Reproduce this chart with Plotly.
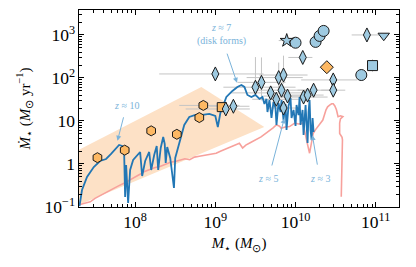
import plotly.graph_objects as go
import numpy as np

# ---------------- data (log10 units) ----------------
# simulated galaxy track (blue)
track_logm = [7.306, 7.3375, 7.40, 7.484, 7.5625, 7.6375, 7.70, 7.759, 7.80, 7.8375, 7.8625, 7.875, 7.8875,
              7.9125, 7.9375, 7.975, 8.025, 8.0625, 8.0875, 8.125, 8.175, 8.20, 8.2375, 8.269, 8.2875, 8.319,
              8.35, 8.369, 8.381, 8.40, 8.4375, 8.4625, 8.484, 8.50, 8.55, 8.6125, 8.675, 8.75, 8.8375, 8.925,
              9.00, 9.031, 9.0625, 9.1375, 9.2125, 9.275, 9.325, 9.3625, 9.40, 9.45, 9.50, 9.55, 9.5875, 9.6125,
              9.6375, 9.65, 9.675, 9.70, 9.725, 9.75, 9.7625, 9.7875, 9.8125, 9.825, 9.85, 9.875, 9.8875, 9.9125,
              9.9375, 9.95, 9.975, 10.00, 10.0125, 10.0375, 10.05, 10.0625, 10.0875, 10.10, 10.125, 10.1375,
              10.15, 10.1625, 10.175, 10.1875, 10.20, 10.2125, 10.225]
track_logsfr = [-0.977, -0.605, -0.302, -0.070, 0.070, 0.116, 0.233, 0.372, 0.442, 0.419, 0.302, -0.767, -0.023,
                -0.907, -0.140, 0.093, 0.209, 0.279, -0.279, 0.070, 0.279, -0.140, 0.209, 0.419, -0.140, 0.372,
                0.628, 0.465, 0.023, 0.395, 0.140, -0.186, -0.558, 0.140, 0.488, 0.907, 1.093, 1.140, 1.140, 1.163,
                1.116, 0.860, 1.186, 1.558, 1.698, 1.791, 1.837, 1.791, 1.605, 1.558, 1.605, 1.512, 1.558, 1.395,
                1.512, 1.209, 1.488, 1.070, 1.442, 1.302, 0.907, 1.419, 1.209, 1.488, 1.023, 1.395, 0.791, 1.349,
                1.535, 1.070, 1.256, 0.884, 1.372, 1.140, 1.558, 0.907, 1.256, 0.674, 1.372, 0.837, 0.488, 1.209,
                1.488, 0.791, 0.558, 1.070, 0.744]

# second track (salmon)
track2_logm = [7.30, 7.37, 7.44, 7.50, 7.56, 7.65, 7.72, 7.78, 7.86, 7.93, 8.00, 8.06, 8.11, 8.18, 8.25, 8.31,
               8.37, 8.44, 8.50, 8.56, 8.62, 8.68, 8.74, 8.80, 8.86, 8.92, 9.01, 9.07, 9.13, 9.20, 9.26, 9.30,
               9.34, 9.38, 9.44, 9.51, 9.57, 9.62, 9.68, 9.72, 9.76, 9.80, 9.82, 9.87, 9.925, 9.96, 9.99, 10.04,
               10.09, 10.11, 10.13, 10.15, 10.175, 10.20, 10.22, 10.25, 10.275, 10.31, 10.34, 10.38, 10.40,
               10.425, 10.45, 10.47, 10.49, 10.51, 10.53, 10.56, 10.59, 10.56, 10.55, 10.55, 10.58, 10.585,
               10.58, 10.57]
track2_logsfr = [-0.95, -0.92, -0.88, -0.80, -0.74, -0.64, -0.58, -0.52, -0.45, -0.38, -0.30, -0.24, -0.18,
                 -0.13, -0.08, -0.06, -0.02, 0.04, 0.06, 0.09, 0.12, 0.10, 0.16, 0.18, 0.20, 0.22, 0.25, 0.30,
                 0.35, 0.40, 0.44, 0.48, 0.37, 0.44, 0.50, 0.56, 0.63, 0.70, 0.78, 0.84, 0.91, 0.88, 0.83, 0.86,
                 0.87, 0.92, 0.95, 0.93, 0.95, 0.80, 0.60, 0.45, 0.25, 0.50, 0.71, 0.80, 0.87, 0.95, 1.02, 1.26,
                 1.33, 1.37, 1.40, 1.40, 1.35, 1.26, 1.10, 1.12, 1.10, 1.05, 0.95, 0.71, 0.62, 0.56, 0.20, -0.76]

# shaded band (log M, log SFR)
band_logm = [7.30, 8.825, 9.61, 7.30]
band_logsfr = [0.33, 1.79, 0.86, -0.95]

# light blue observations
diam_logm = [9.00, 9.13, 9.225, 9.50, 9.575, 9.69, 9.76, 9.79, 9.85, 9.825, 9.90, 9.85, 10.10, 10.15, 10.225,
             10.09, 10.47, 10.47, 10.89]
diam_sfr = [124, 19, 22, 61, 79, 45, 32, 102, 117, 52, 38, 20, 36, 40, 52, 300, 90, 52, 1000]
diam_xlo = [0.70, 0.50, 0.30, 0.40, 0.30, 0.50, 0.30, 0.40, 0.30, 0.30, 0.30, 0.20, 0.30, 0.20, 0.20, 0.18, 0.40, 0.15, 0.19]
diam_xhi = [0.60, 0.30, 0.20, 0.50, 0.30, 0.40, 0.30, 0.30, 0.30, 0.30, 0.30, 0.20, 0.30, 0.20, 0.20, 0.12, 0.30, 0.15, 0.16]
diam_ylo = [0.00, 0.00, 0.00, 0.00, 0.42, 0.00, 0.00, 0.35, 0.20, 0.00, 0.00, 0.00, 0.00, 0.00, 0.00, 0.00, 0.10, 0.00, 0.00]
diam_yhi = [0.00, 0.00, 0.00, 0.70, 0.58, 0.00, 0.00, 0.35, 0.45, 0.00, 0.00, 0.00, 0.00, 0.00, 0.00, 0.00, 0.10, 0.00, 0.00]

circ_logm = [10.00, 10.25, 10.30, 10.35, 10.82]
circ_sfr = [660, 690, 950, 1240, 117]
star_logm = [9.89]
star_sfr = [740]
sq_logm = [10.96]
sq_sfr = [194]
tri_logm = [11.10]
tri_sfr = [960]

# orange observations
hex_logm = [7.53, 7.87, 8.20, 8.52, 8.85, 8.80]
hex_sfr = [1.4, 2.1, 5.9, 4.9, 23, 12]
hex_xlo = [0, 0, 0, 0, 0.30, 0]
hex_xhi = [0, 0, 0, 0, 0.45, 0]
osq_logm = [9.08]
osq_sfr = [21]
odiam_logm = [10.39]
odiam_sfr = [178]

# annotations: (label, text_logm, text_logsfr, tail_logm, tail_logsfr, head_logm, head_logsfr)
arrows = [
    ("<i>z</i> ≈ 10", 7.89, 1.37, 7.86, 1.12, 7.78, 0.54),
    ("<i>z</i> ≈ 7<br>(disk forms)", 9.08, 3.00, 9.14, 2.60, 9.27, 1.89),
    ("<i>z</i> ≈ 5", 9.66, -0.33, 9.70, -0.07, 9.86, 1.06),
    ("<i>z</i> ≈ 3", 10.31, -0.33, 10.275, -0.05, 10.21, 0.67),
]

# ---------------- figure ----------------
LB = "#9ecae1"
OR = "#fdb863"
EDGE = "#1a1a1a"
ANN = "#7ab3da"
FONT = "Liberation Serif"

fig = go.Figure()

p = lambda a: [10 ** v for v in a]

fig.add_trace(go.Scatter(x=p(band_logm), y=p(band_logsfr), fill="toself", mode="none",
                         fillcolor="#fde1c6", hoverinfo="skip", showlegend=False))

# error bars as gray segments
ex, ey = [], []
for lm, s, xl, xh, yl, yh in zip(diam_logm, diam_sfr, diam_xlo, diam_xhi, diam_ylo, diam_yhi):
    ls = np.log10(s)
    if xl or xh:
        ex += [10 ** (lm - xl), 10 ** (lm + xh), None]
        ey += [s, s, None]
    if yl or yh:
        ex += [10 ** lm, 10 ** lm, None]
        ey += [10 ** (ls - yl), 10 ** (ls + yh), None]
for lm, s, xl, xh in zip(hex_logm, hex_sfr, hex_xlo, hex_xhi):
    if xl or xh:
        ex += [10 ** (lm - xl), 10 ** (lm + xh), None]
        ey += [s, s, None]
for lm, s in zip(star_logm, star_sfr):
    ex += [10 ** (lm - 0.1), 10 ** (lm + 0.06), None]
    ey += [s, s, None]
for lm, s in zip(sq_logm, sq_sfr):
    ex += [10 ** lm, 10 ** lm, None]
    ey += [s / 1.4, s * 1.4, None]
fig.add_trace(go.Scatter(x=ex, y=ey, mode="lines", line=dict(color="#c4c4c4", width=1),
                         hoverinfo="skip", showlegend=False))

fig.add_trace(go.Scatter(x=p(track2_logm), y=p(track2_logsfr), mode="lines",
                         line=dict(color="#f7a19c", width=1.6), showlegend=False))
fig.add_trace(go.Scatter(x=p(track_logm), y=p(track_logsfr), mode="lines",
                         line=dict(color="#2277b5", width=1.8), showlegend=False))


def pts(lm, s, sym, col, size):
    fig.add_trace(go.Scatter(x=p(lm), y=s, mode="markers", showlegend=False,
                             marker=dict(symbol=sym, color=col, size=size,
                                         line=dict(color=EDGE, width=1))))


pts(hex_logm, hex_sfr, "hexagon", OR, 10)
pts(osq_logm, osq_sfr, "square", OR, 9)
pts(odiam_logm, odiam_sfr, "diamond", OR, 10)
pts(diam_logm, diam_sfr, "diamond-tall", LB, 10)
pts(circ_logm, circ_sfr, "circle", LB, 11)
pts(star_logm, star_sfr, "star", LB, 10)
pts(sq_logm, sq_sfr, "square", LB, 10)
pts(tri_logm, tri_sfr, "triangle-down", LB, 10)

for text, tx, ty, ax0, ay0, hx, hy in arrows:
    fig.add_annotation(x=hx, y=hy, ax=ax0, ay=ay0, xref="x", yref="y", axref="x", ayref="y",
                       text="", showarrow=True, arrowhead=2, arrowsize=1, arrowwidth=1,
                       arrowcolor=ANN, standoff=0, startstandoff=0)
    fig.add_annotation(x=tx, y=ty, xref="x", yref="y", text=text, showarrow=False,
                       font=dict(family=FONT, size=10, color=ANN), align="center")

axis_common = dict(type="log", showgrid=False, zeroline=False, showline=True, linecolor="black",
                   linewidth=1.3, ticks="inside", ticklen=5, tickwidth=1.2, tickcolor="black",
                   mirror="allticks", exponentformat="power", dtick=1, automargin=False,
                   tickfont=dict(family=FONT, size=14, color="black"),
                   minor=dict(ticks="inside", ticklen=3, tickwidth=0.8, tickcolor="black", showgrid=False))

fig.update_xaxes(**axis_common, range=[7.3, 11.29],
                 title=dict(text="<i>M</i><sub>⋆</sub> (<i>M</i><sub>⊙</sub>)",
                            font=dict(family=FONT, size=15, color="black"), standoff=6))
fig.update_yaxes(**axis_common, range=[-1.0, 3.58],
                 title=dict(text="<i>Ṁ</i><sub>⋆</sub> (<i>M</i><sub>⊙</sub> yr<sup>−1</sup>)",
                            font=dict(family=FONT, size=15, color="black"), standoff=10))

fig.update_layout(width=416, height=267, margin=dict(l=79, r=17, t=10, b=60, autoexpand=False),
                  plot_bgcolor="white", paper_bgcolor="white", showlegend=False)

fig.write_html("out.html", config={"displayModeBar": False},
               post_script="document.body.style.margin='0';document.body.style.overflow='hidden';")
